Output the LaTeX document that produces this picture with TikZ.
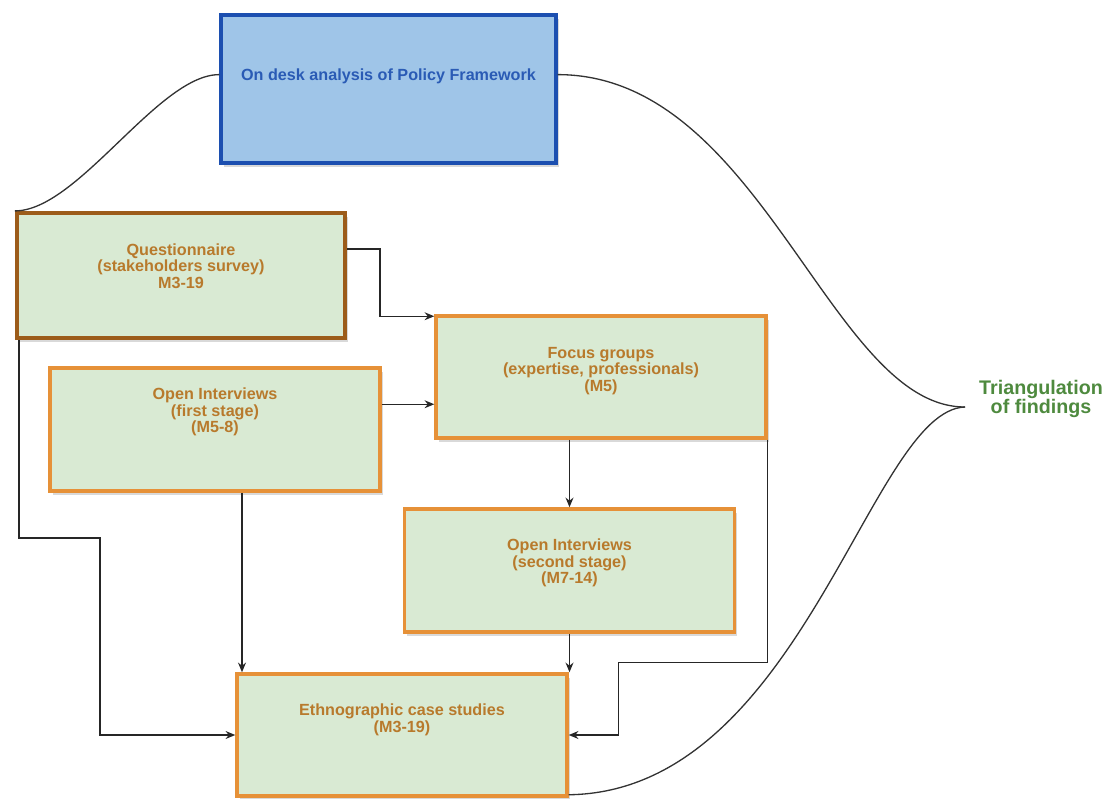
\documentclass[tikz,border=0pt]{standalone}
\usepackage{fontspec}
\setmainfont{Liberation Sans}
\usetikzlibrary{calc,shadows,arrows.meta}
\definecolor{boxgreen}{RGB}{217,234,211}
\definecolor{boxorange}{RGB}{230,145,56}
\definecolor{qbrown}{RGB}{156,92,26}
\definecolor{btext}{RGB}{184,122,44}
\definecolor{topfill}{RGB}{159,197,232}
\definecolor{topborder}{RGB}{28,79,176}
\definecolor{toptext}{RGB}{42,91,181}
\definecolor{trigreen}{RGB}{78,138,62}
\begin{document}
\begin{tikzpicture}[x=0.02cm,y=-0.02cm,
  box/.style={draw=boxorange, line width=2pt, fill=boxgreen, inner sep=0pt,
    minimum width=6.6cm, minimum height=2.46cm,
    drop shadow={shadow xshift=1.5pt, shadow yshift=-2pt, opacity=0.25, fill=black!60}},
  btxt/.style={text=btext, font=\fontsize{9.2}{9.4}\selectfont\bfseries, align=center, inner sep=0pt},
  arr/.style={-{Stealth[length=5.5pt,width=4.5pt]}, line width=0.75pt, black!85},
  curve/.style={line width=0.75pt, black!80}]
\useasboundingbox (0,0) rectangle (1109,798);

% boxes
\node[box, minimum width=6.7cm, minimum height=2.96cm, draw=topborder, fill=topfill] (top) at (388.5,89) {};
\node[box, draw=qbrown, line width=2.4pt, minimum width=6.56cm, minimum height=2.5cm] (q) at (181,275.5) {};
\node[box] (o1) at (215,429.5) {};
\node[box, minimum height=2.44cm] (f) at (601,377) {};
\node[box] (o2) at (569.5,570.5) {};
\node[box, minimum height=2.44cm] (e) at (402,735) {};

% texts
\node[btxt, text=toptext] (topt) at (388.5,76) {On desk analysis of Policy Framework};
\node[btxt] (qt) at (181,266) {Questionnaire\\(stakeholders survey)\\M3-19};
\node[btxt] (o1t) at (215,412) {Open Interviews\\(first stage)\\(M5-8)};
\node[btxt] (ft) at (601,371) {Focus groups\\(expertise, professionals)\\(M5)};
\node[btxt] (o2t) at (569.5,563) {Open Interviews\\(second stage)\\(M7-14)};
\node[btxt] (et) at (402,720) {Ethnographic case studies\\(M3-19)};
\node[text=trigreen, font=\fontsize{11.2}{11}\selectfont\bfseries, align=center, inner sep=0pt] (tri) at (1041,399) {Triangulation\\of findings};

% curves
\coordinate (cusp) at (965,407);
\coordinate (tl) at ($(top.north west)!0.405!(top.south west)$);
\coordinate (tr) at ($(top.north east)!0.405!(top.south east)$);
\coordinate (eb) at ($(e.south east)+(0,-3)$);
\draw[curve] (tl) .. controls +(-61,0) and +(63,0) .. (q.north west);
\draw[curve] (tr) .. controls +(204,0) and +(-135,0) .. (cusp);
\draw[curve] (cusp) .. controls +(-95,3) and +(233,-3) .. (eb);

% arrows
\draw[arr] ($(q.north east)+(0,38)$) -- ++(33,0) |- ($(f.north west)+(0,2)$);
\coordinate (a2) at ($(o1.north east)+(0,38)$);
\draw[arr] (a2) -- (a2 -| f.west);
\draw[arr] (o2.north |- f.south) -- (o2.north);
\draw[arr] (f.south east) -- ++(0,223) -- ++(-149,0) |- (e.east);
\draw[arr] (o2.south) -- (o2.south |- e.north);
\draw[arr] ($(q.south west)+(4,0)$) |- ++(81,198) |- (e.west);
\coordinate (a7) at ($(o1.south)+(27,0)$);
\draw[arr] (a7) -- (a7 |- e.north);
\end{tikzpicture}
\end{document}
